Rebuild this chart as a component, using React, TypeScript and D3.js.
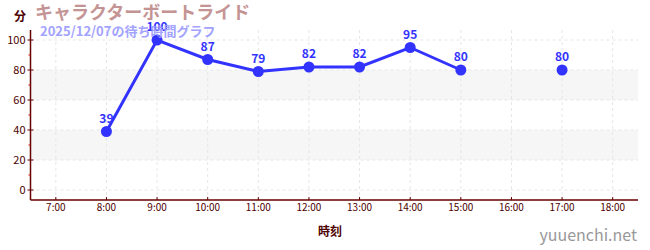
import React from "react";
import * as d3 from "d3";

const hours = [8, 9, 10, 11, 12, 13, 14, 15, 16, 17];
const waits: (number | null)[] = [39, 100, 87, 79, 82, 82, 95, 80, null, 80];
const xTickHours = [7, 8, 9, 10, 11, 12, 13, 14, 15, 16, 17, 18];
const yTicks = [0, 20, 40, 60, 80, 100];
const yMinor = [10, 30, 50, 70, 90];
const bands = [[20, 40], [60, 80]];
const title = "キャラクターボートライド";
const subtitle = "2025/12/07の待ち時間グラフ";

export default function App() {
  const W = 650, H = 250;
  const x = d3.scaleLinear().domain([6.5, 18.5]).range([30.5, 638]);
  const y = d3.scaleLinear().domain([0, 100]).range([190, 40]);
  const top = 30, bottom = 200;
  const pts = hours.map((h, i) => ({ h, v: waits[i] })).filter((d) => d.v !== null) as { h: number; v: number }[];
  const line = d3
    .line<{ h: number; v: number | null }>()
    .defined((d) => d.v !== null)
    .x((d) => x(d.h))
    .y((d) => y(d.v as number));
  const lineData = hours.map((h, i) => ({ h, v: waits[i] }));
  const font = "'Noto Sans CJK JP', 'Noto Sans', sans-serif";
  const axisColor = "#660000";
  return (
    <svg width={W} height={H} style={{ position: "absolute", left: 0, top: 0 }} fontFamily={font}>
      <rect x={0} y={0} width={W} height={H} fill="#fff" />
      {bands.map(([a, b], i) => (
        <rect key={i} x={x(6.5)} y={y(b)} width={x(18.5) - x(6.5)} height={y(a) - y(b)} fill="#f6f6f6" />
      ))}
      {yTicks.map((t) => (
        <line key={t} x1={x(6.5)} x2={x(18.5)} y1={y(t)} y2={y(t)} stroke="#e6e6e6" strokeDasharray="3,3" />
      ))}
      {xTickHours.map((t) => (
        <line key={t} x1={x(t)} x2={x(t)} y1={top} y2={bottom} stroke="#e6e6e6" strokeDasharray="3,3" />
      ))}
      {/* axes */}
      <line x1={x(6.5)} x2={x(6.5)} y1={top} y2={bottom} stroke={axisColor} strokeWidth={1.5} />
      <line x1={x(6.5)} x2={x(18.5)} y1={bottom} y2={bottom} stroke={axisColor} strokeWidth={1.5} />
      {yTicks.map((t) => (
        <g key={t}>
          <line x1={x(6.5) - 3} x2={x(6.5) + 3} y1={y(t)} y2={y(t)} stroke={axisColor} />
          <text x={x(6.5) - 5} y={y(t)} dy="0.35em" textAnchor="end" fontSize={11} fill="#4d0000">
            {t}
          </text>
        </g>
      ))}
      {yMinor.map((t) => (
        <line key={t} x1={x(6.5) - 2} x2={x(6.5)} y1={y(t)} y2={y(t)} stroke="#cc0000" />
      ))}
      {xTickHours.map((t) => (
        <g key={t}>
          <line x1={x(t)} x2={x(t)} y1={bottom - 3} y2={bottom} stroke={axisColor} />
          <text x={x(t)} y={bottom + 11} textAnchor="middle" fontSize={10} fill="#4d0000">
            {`${t}:00`}
          </text>
        </g>
      ))}
      <text x={14} y={21} fontSize={12} fontWeight="bold" fill="#4d0000">分</text>
      <text x={330} y={236} textAnchor="middle" fontSize={12} fontWeight="bold" fill="#4d0000">時刻</text>
      <text x={637} y={241} textAnchor="end" fontSize={16} fill="#999">yuuenchi.net</text>
      {/* line */}
      <path d={line(lineData) || ""} fill="none" stroke="#3333ff" strokeWidth={3} />
      {pts.map((d) => (
        <g key={d.h}>
          <circle cx={x(d.h)} cy={y(d.v)} r={5.5} fill="#3333ff" />
          <text x={x(d.h)} y={y(d.v) - 9} textAnchor="middle" fontSize={12} fontWeight="bold" fill="#3333ff">
            {d.v}
          </text>
        </g>
      ))}
      <text x={35} y={19} fontSize={18} fontWeight="bold" fill="#c49494">{title}</text>
      <text x={40} y={36} fontSize={13} fontWeight="bold" fill="#9999ff" opacity={0.9}>{subtitle}</text>
    </svg>
  );
}
